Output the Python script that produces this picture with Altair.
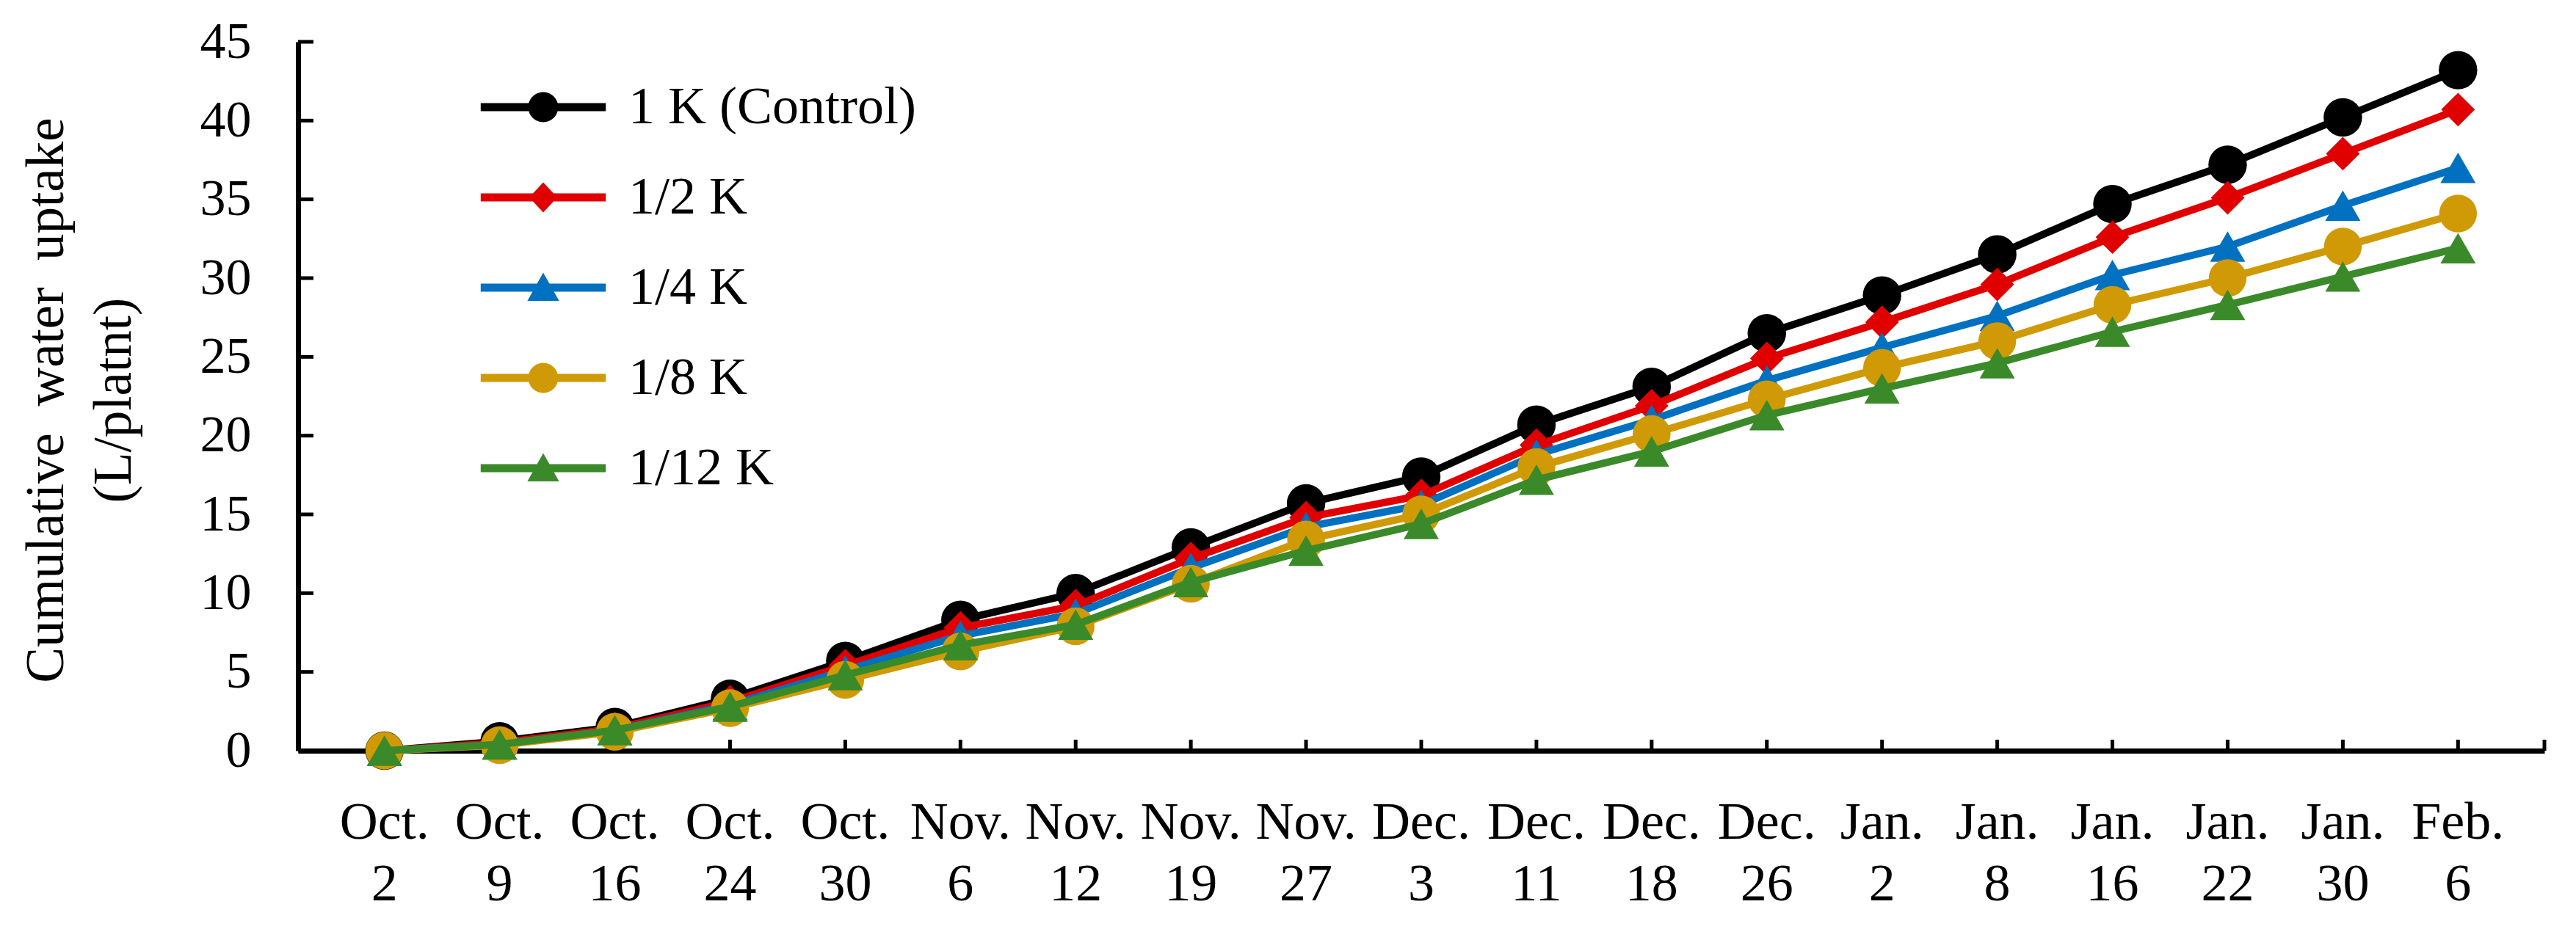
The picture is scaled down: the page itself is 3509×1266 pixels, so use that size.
import altair as alt
import pandas as pd

# ---------------- data ----------------
dates = ["Oct. 2", "Oct. 9", "Oct. 16", "Oct. 24", "Oct. 30", "Nov. 6", "Nov. 12",
         "Nov. 19", "Nov. 27", "Dec. 3", "Dec. 11", "Dec. 18", "Dec. 26", "Jan. 2",
         "Jan. 8", "Jan. 16", "Jan. 22", "Jan. 30", "Feb. 6"]
series = ["1 K (Control)", "1/2 K", "1/4 K", "1/8 K", "1/12 K"]

k1 = [0, 0.6, 1.5, 3.3, 5.7, 8.3, 10.0, 12.9, 15.7, 17.4, 20.7, 23.1, 26.5, 28.9, 31.5, 34.7, 37.2, 40.2, 43.2]
k2 = [0, 0.5, 1.4, 3.1, 5.4, 7.8, 9.2, 12.2, 14.8, 16.2, 19.4, 21.9, 24.9, 27.2, 29.6, 32.6, 35.1, 37.9, 40.7]
k4 = [0, 0.4, 1.3, 2.9, 5.1, 7.3, 8.7, 11.6, 14.2, 15.6, 18.8, 21.0, 23.5, 25.6, 27.6, 30.2, 32.0, 34.6, 37.0]
k8 = [0, 0.35, 1.2, 2.7, 4.5, 6.3, 7.9, 10.6, 13.4, 15.0, 18.0, 20.1, 22.3, 24.3, 26.0, 28.3, 30.0, 32.0, 34.1]
k12 = [0, 0.4, 1.3, 2.8, 4.8, 6.7, 8.0, 10.7, 12.7, 14.4, 17.2, 19.0, 21.3, 23.0, 24.6, 26.6, 28.3, 30.1, 31.9]

y_ticks = [0, 5, 10, 15, 20, 25, 30, 35, 40, 45]

# ---------------- styles ----------------
colors = ["#000000", "#E00000", "#0070C0", "#CF9A05", "#3A8A2A"]
shapes = ["circle", "diamond", "triangle-up", "circle", "triangle-up"]
sizes = [2750, 2100, 2300, 2650, 2300]

# legend symbols: line segment + marker (custom paths, unit = sqrt(symbolSize)/2)
bar = "M-3.55,-0.23L3.55,-0.23L3.55,0.23L-3.55,0.23Z"
circ = "M-0.85,0A0.85,0.85 0 1,1 0.85,0A0.85,0.85 0 1,1 -0.85,0Z"
diam = "M0,-0.85L0.8,0L0,0.85L-0.8,0Z"
tri = "M0,-0.85L0.9,0.75L-0.9,0.75Z"
legend_paths = [bar + circ, bar + diam, bar + tri, bar + circ, bar + tri]

FONT = "Liberation Serif"
W, H = 3060, 966

rows = []
for s, vals in zip(series, [k1, k2, k4, k8, k12]):
    for d, v in zip(dates, vals):
        rows.append({"date": d, "series": s, "value": v})
df = pd.DataFrame(rows)

x_enc = alt.X(
    "date:N", sort=dates,
    scale=alt.Scale(domain=dates, padding=0.5),
    axis=alt.Axis(
        title=None, labelExpr="split(datum.label, ' ')", labelAngle=0,
        labelFont=FONT, labelFontSize=72, labelColor="black",
        labelPadding=62, labelLineHeight=84, labelOverlap=False,
        ticks=False, tickSize=0, domainColor="black", domainWidth=7, grid=False,
    ),
)
y_enc = alt.Y(
    "value:Q",
    scale=alt.Scale(domain=[0, 45], nice=False, zero=True),
    axis=alt.Axis(
        values=y_ticks, format="d",
        title=["Cumulative\u00a0 water\u00a0 uptake", "(L/platnt)"],
        titleFont=FONT, titleFontSize=73, titleFontWeight="normal", titleColor="black",
        titleLineHeight=92, titleX=-306, titleY=488,
        labelFont=FONT, labelFontSize=70, labelColor="black", labelPadding=64,
        ticks=False, tickSize=0, domainColor="black", domainWidth=7, grid=False,
    ),
)

layers = []

# inward axis ticks, drawn from the category / tick-value lists
xt = alt.Chart(pd.DataFrame({"date": dates})).mark_rule(color="black", strokeWidth=5).encode(
    x=x_enc, y=alt.value(H), y2=alt.value(H - 15))
xt_end = alt.Chart(pd.DataFrame({"date": [dates[-1]]})).mark_rule(color="black", strokeWidth=5).encode(
    x=alt.value(W), y=alt.value(H), y2=alt.value(H - 15))
yt = alt.Chart(pd.DataFrame({"value": y_ticks})).mark_rule(color="black", strokeWidth=5).encode(
    y=y_enc, x=alt.value(0), x2=alt.value(21))
layers += [xt, xt_end, yt]

base = alt.Chart(df)
for s, c, sh, sz in zip(series, colors, shapes, sizes):
    b = base.transform_filter(alt.datum.series == s)
    layers.append(b.mark_line(color=c, strokeWidth=10).encode(x=x_enc, y=y_enc))
    layers.append(b.mark_point(filled=True, color=c, shape=sh, size=sz, opacity=1).encode(x=x_enc, y=y_enc))

leg = alt.Legend(
    title=None, orient="none", legendX=298, legendY=53, padding=0,
    labelFont=FONT, labelFontSize=72, labelColor="black", labelLimit=0,
    symbolSize=2304, symbolStrokeWidth=0, symbolOpacity=1,
    labelOffset=80, rowPadding=51,
)
legend_layer = base.transform_filter(alt.datum.value < -1).mark_point(filled=True).encode(
    x=x_enc, y=y_enc,
    color=alt.Color("series:N", scale=alt.Scale(domain=series, range=colors), legend=leg),
    shape=alt.Shape("series:N", scale=alt.Scale(domain=series, range=legend_paths), legend=leg),
)
layers.append(legend_layer)

chart = alt.layer(*layers).properties(
    width=W, height=H,
    padding={"left": 398, "top": 49, "right": 35, "bottom": 235},
    autosize=alt.AutoSizeParams(type="none"),
    background="white",
).configure_view(stroke=None)

chart.save("out.html", embed_options={"renderer": "svg", "actions": False})
